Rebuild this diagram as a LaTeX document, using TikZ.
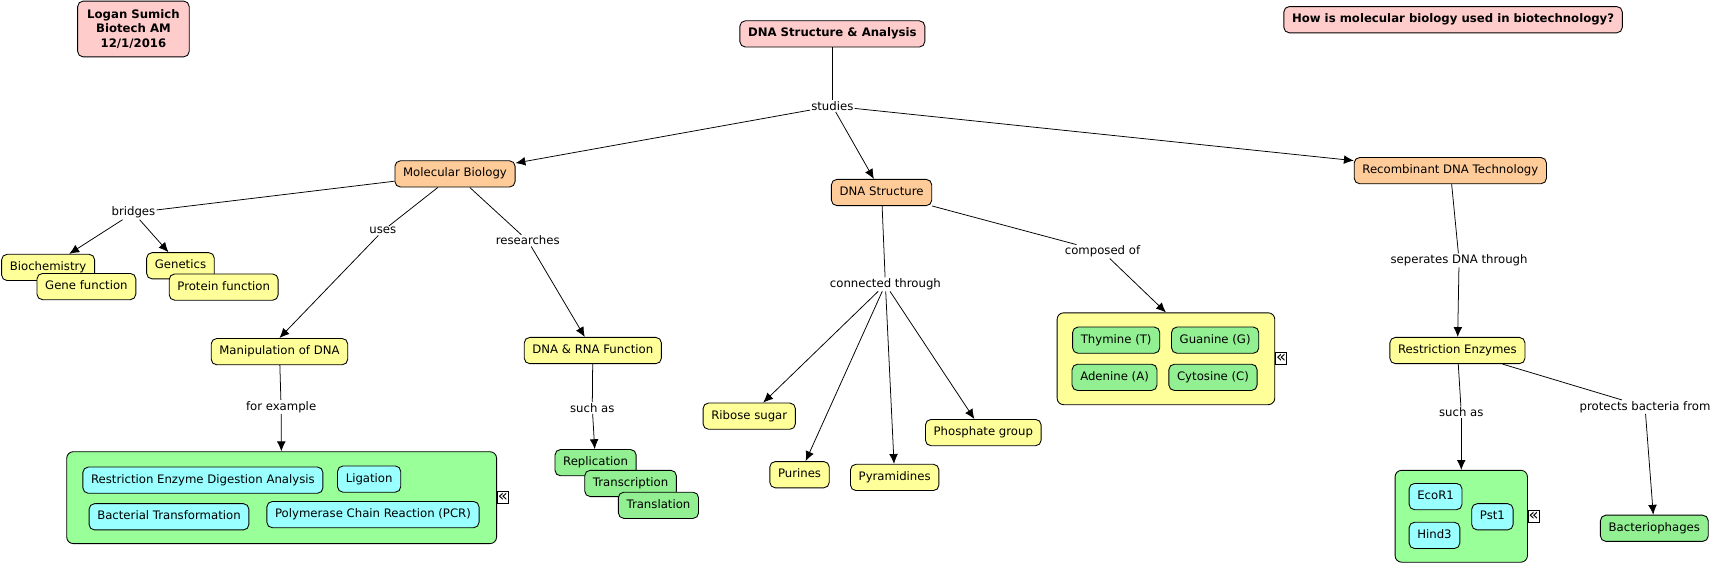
\documentclass[tikz,border=0pt]{standalone}
\usepackage{fontspec}
\setmainfont{DejaVu Sans}
\usetikzlibrary{positioning, arrows.meta}
\definecolor{pinkfill}{RGB}{255,204,204}
\definecolor{orangefill}{RGB}{255,204,153}
\definecolor{yellowfill}{RGB}{255,255,153}
\definecolor{groupgreen}{RGB}{153,255,153}
\definecolor{leafgreen}{RGB}{146,240,146}
\definecolor{cyanfill}{RGB}{153,255,255}
\tikzset{
	cmap/.style={draw, rectangle, rounded corners=5pt, line width=0.8pt, inner xsep=7.5pt, inner ysep=0pt, minimum height=24pt, text height=8pt, text depth=2.5pt, font=\fontsize{10.7}{13}\selectfont},
	title/.style={cmap, fill=pinkfill, font=\fontsize{10.7}{13}\selectfont\bfseries},
	concept/.style={cmap, fill=orangefill},
	idea/.style={cmap, fill=yellowfill},
	leaf/.style={cmap, fill=leafgreen},
	method/.style={cmap, fill=cyanfill},
	group/.style={draw, rectangle, rounded corners=6pt, line width=0.8pt},
	% linking phrases sit on the connectors
	link/.style={fill=white, inner sep=1pt, font=\fontsize{10.7}{13}\selectfont},
	collapse/.style={draw, fill=white, line width=0.7pt, inner sep=0pt, minimum width=10pt, minimum height=11pt, font=\fontsize{15}{15}\selectfont},
}
\begin{document}
\begin{tikzpicture}[x=1pt, y=-1pt]
	\useasboundingbox (0,0) rectangle (1568,516.5);
	
	\node (author) [draw, rectangle, rounded corners=5pt, line width=0.8pt, fill=pinkfill, align=center, minimum width=102pt, minimum height=51pt, inner sep=2pt, font=\fontsize{10.7}{13.5}\selectfont\bfseries] at (122,26.5) {Logan Sumich\\Biotech AM\\12/1/2016};
	\node (root) [title] at (761,31) {DNA Structure \& Analysis};
	\node (question) [title] at (1328.5,18) {How is molecular biology used in biotechnology?};
	
	\node (studies) [link] at (761,97) {studies};
	
	\node (molbio) [concept] at (416,159) {Molecular Biology};
	\node (dnastr) [concept] at (806,176) {DNA Structure};
	\node (recomb) [concept] at (1326,156) {Recombinant DNA Technology};
	
	% molecular biology branch
	\node (bridges) [link] at (122,194.5) {bridges};
	\node (biochem) [idea] at (44,244.5) {Biochemistry};
	\node (genefn) [idea] at (79,262) {Gene function};
	\node (genetics) [idea] at (165,243) {Genetics};
	\node (protfn) [idea] at (204.5,262.5) {Protein function};
	
	\node (uses) [link] at (350,211) {uses};
	\node (manip) [idea] at (255.5,321.5) {Manipulation of DNA};
	\node (forex) [link] at (257,372) {for example};
	\node (tools) [group, fill=groupgreen, minimum width=393pt, minimum height=84pt] at (257.5,455) {};
	\node (rflp) [method] at (185.5,439) {Restriction Enzyme Digestion Analysis};
	\node (ligation) [method] at (337.5,438) {Ligation};
	\node (transform) [method] at (154.5,472.5) {Bacterial Transformation};
	\node (pcr) [method] at (341,470.5) {Polymerase Chain Reaction (PCR)};
	\node (toolsmark) [collapse, right=0pt of tools] {«};
	
	\node (researches) [link] at (482.5,220) {researches};
	\node (dnarna) [idea] at (542,320.5) {DNA \& RNA Function};
	\node (suchas1) [link] at (541.5,373) {such as};
	\node (repl) [leaf] at (544.5,423) {Replication};
	\node (transc) [leaf] at (576.5,442) {Transcription};
	\node (transl) [leaf] at (602,462) {Translation};
	
	% dna structure branch
	\node (conn) [link] at (809.5,260) {connected through};
	\node (ribose) [idea] at (685,380.5) {Ribose sugar};
	\node (purines) [idea] at (731,434) {Purines};
	\node (pyram) [idea] at (818,436.5) {Pyramidines};
	\node (phosph) [idea] at (899,395.5) {Phosphate group};
	
	\node (compo) [link] at (1008,230) {composed of};
	\node (bases) [group, fill=yellowfill, minimum width=199pt, minimum height=84pt] at (1066,328) {};
	\node (thy) [leaf] at (1020.5,311) {Thymine (T)};
	\node (gua) [leaf] at (1111,311) {Guanine (G)};
	\node (ade) [leaf] at (1019,345) {Adenine (A)};
	\node (cyt) [leaf] at (1109,345) {Cytosine (C)};
	\node (basesmark) [collapse, right=0pt of bases] {«};
	
	% recombinant dna branch
	\node (seper) [link] at (1334,238) {seperates DNA through};
	\node (restr) [idea] at (1332.5,320.5) {Restriction Enzymes};
	\node (suchas2) [link] at (1336,377) {such as};
	\node (enzymes) [group, fill=groupgreen, minimum width=121pt, minimum height=84pt] at (1336,472) {};
	\node (ecor) [method] at (1312.5,454) {EcoR1};
	\node (hind) [method] at (1311.5,489.5) {Hind3};
	\node (pst) [method] at (1364.5,472.5) {Pst1};
	\node (enzmark) [collapse, right=0pt of enzymes] {«};
	\node (protects) [link] at (1504,372) {protects bacteria from};
	\node (phages) [leaf] at (1512.5,483) {Bacteriophages};
	
	\begin{scope}[black, line width=0.7pt]
		\draw (root) -- (studies);
		\draw (molbio) -- (bridges);
		\draw (molbio) -- (uses);
		\draw (molbio) -- (researches);
		\draw (manip) -- (forex);
		\draw (dnarna) -- (suchas1);
		\draw (dnastr) -- (conn);
		\draw (dnastr) -- (compo);
		\draw (recomb) -- (seper);
		\draw (restr) -- (suchas2);
		\draw (restr) -- (protects);
	\end{scope}
	
	\begin{scope}[black, line width=0.7pt, ->, >={Latex[length=9pt, width=8pt]}]
		\draw (studies) -- (molbio);
		\draw (studies) -- (dnastr);
		\draw (studies) -- (recomb);
		
		\draw (bridges) -- (biochem);
		\draw (bridges) -- (genetics);
		\draw (uses) -- (manip.north);
		\draw (researches) -- (dnarna);
		\draw (forex) -- (tools);
		\draw (suchas1) -- (repl);
		
		\draw (conn) -- (ribose);
		\draw (conn) -- (purines);
		\draw (conn) -- (pyram);
		\draw (conn) -- (phosph);
		\draw (compo) -- (bases.north);
		
		\draw (seper) -- (restr);
		\draw (suchas2) -- (enzymes);
		\draw (protects) -- (phages);
	\end{scope}
	
\end{tikzpicture}
\end{document}
